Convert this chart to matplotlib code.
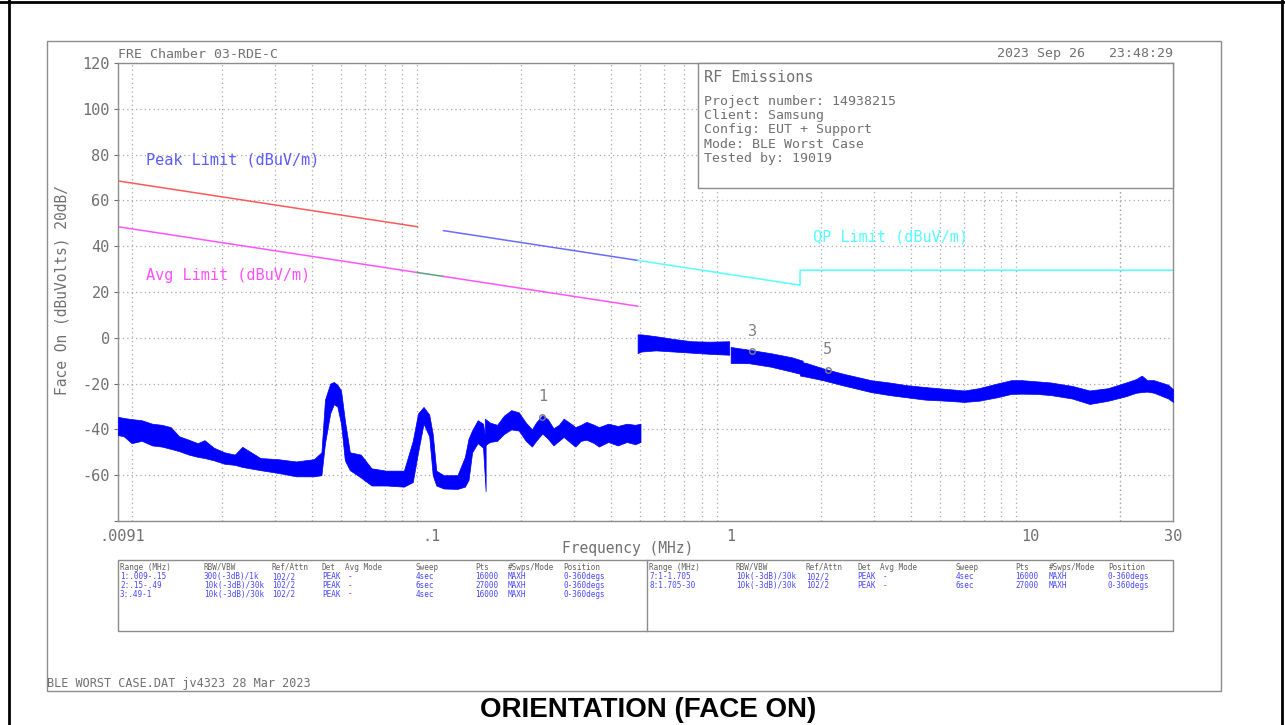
import matplotlib
matplotlib.use('Agg')
import matplotlib.pyplot as plt
from matplotlib.patches import Rectangle
from matplotlib.lines import Line2D

plt.rcParams['font.family'] = ['DejaVu Sans Mono']

W, H = 1285, 725

# --- trace envelopes (MHz, top dB, bottom dB) ---
seg1_f = [0.009, 0.0094, 0.010, 0.0108, 0.0117, 0.0126, 0.0135, 0.0144, 0.0155, 0.0166,
          0.0175, 0.0188, 0.0204, 0.0221, 0.0234, 0.0269, 0.0308, 0.0354, 0.0406, 0.0430,
          0.0442, 0.0460, 0.0473, 0.0486, 0.0500, 0.0515, 0.0535, 0.0582, 0.0632, 0.0707,
          0.0811, 0.0868, 0.0904, 0.0943, 0.0985, 0.1012, 0.104, 0.110, 0.1224, 0.1296,
          0.1333, 0.137, 0.143, 0.149, 0.152]
seg1_top = [-34.5, -35, -35.5, -36, -37.5, -38, -39, -43, -44.5, -46,
            -44.7, -48, -50, -51, -47.6, -52.5, -53, -54, -53, -50,
            -27, -20, -19.3, -20.5, -23, -36, -50, -51, -57, -58,
            -58, -45, -33, -30.2, -33.5, -42, -58, -60, -60, -52,
            -44, -40.4, -36, -37.5, -45]
seg1_bot = [-42.5, -43, -46, -45, -47, -47.5, -48.5, -49.5, -51, -52,
            -52.5, -53.5, -55, -55.5, -56.4, -57.8, -59, -60.5, -60.5, -60,
            -46, -33, -29, -30, -37.5, -53.5, -57.8, -61, -64.5, -64.5,
            -65, -63, -50, -37.5, -43, -60, -64.5, -65.8, -66, -65,
            -62, -50, -46, -48, -67]

seg2_f = [0.151, 0.157, 0.166, 0.175, 0.185, 0.196, 0.207, 0.217, 0.224, 0.235,
          0.245, 0.256, 0.267, 0.277, 0.293, 0.303, 0.316, 0.33, 0.35, 0.363,
          0.39, 0.42, 0.45, 0.48, 0.50]
seg2_top = [-35.3, -37, -38, -34, -31.6, -32.5, -37, -40, -37, -33.8,
            -35.5, -39.5, -38, -35.3, -37.5, -39, -38, -36.7, -38, -39,
            -37.5, -38.5, -37.5, -38, -37.5]
seg2_bot = [-47, -45.5, -45, -42, -40, -40.5, -45, -47.5, -45, -41.8,
            -44, -47, -45, -43.3, -46, -47.5, -45, -44.5, -46, -47.5,
            -45.5, -47, -45.5, -46.5, -45.5]

seg3_f = [0.489, 0.503, 0.562, 0.645, 0.740, 0.850, 0.989]
seg3_top = [1.5, 1.5, 0.7, -0.5, -1.5, -1.7, -1.5]
seg3_bot = [-6.7, -6, -5.5, -6, -6.5, -7, -7.4]

seg7_f = [1.0, 1.151, 1.359, 1.60, 1.74]
seg7_top = [-4, -5.2, -6.7, -8.5, -10]
seg7_bot = [-11, -11.1, -12.6, -14.8, -16]

seg8_f = [1.705, 1.79, 2.03, 2.36, 2.94, 3.38, 3.88, 4.46, 5.12, 6.03, 6.74, 7.74,
          8.65, 9.37, 10.5, 11.7, 13.8, 15.8, 18.2, 20.9, 22.6, 23.6, 24.6, 25.9,
          28.9, 30.0]
seg8_top = [-10.5, -11, -13.3, -15.6, -18.5, -19.5, -20.7, -21.5, -22.2, -23, -22, -20,
            -18.5, -18.5, -19, -19.5, -21, -23, -22, -19.5, -18, -16.5, -18.5, -18.5,
            -20.5, -22.5]
seg8_bot = [-16.5, -17, -18.5, -20.7, -23.7, -25, -26, -27, -27.4, -28, -27.5, -26,
            -24.5, -24.4, -24.5, -25, -26.5, -28.9, -27.5, -25.5, -24, -23.7, -23.5, -24,
            -26.5, -28]

# --- limit lines (MHz, dBuV/m) ---
peak_f1, peak_v1 = [0.009, 0.09], [68.5, 48.5]
peak_f2, peak_v2 = [0.11, 0.49], [46.8, 33.8]
avg_f1, avg_v1 = [0.009, 0.09], [48.5, 28.5]
avg_gap_f, avg_gap_v = [0.09, 0.11], [28.5, 26.8]
avg_f2, avg_v2 = [0.11, 0.49], [26.8, 13.8]
qp_f = [0.49, 1.705, 1.705, 30]
qp_v = [33.8, 23.0, 29.5, 29.5]

# --- markers ---
mk_names = ['1', '3', '5']
mk_f = [0.235, 1.18, 2.11]
mk_v = [-34.5, -5.9, -14]

yticks = [-80, -60, -40, -20, 0, 20, 40, 60, 80, 100, 120]
ytick_labels = ['', '-60', '-40', '-20', '0', '20', '40', '60', '80', '100', '120']
xticks = [0.0093, 0.1, 1, 10, 30]
xtick_labels = ['.0091', '.1', '1', '10', '30']

info_title = 'RF Emissions'
info_lines = ['Project number: 14938215', 'Client: Samsung', 'Config: EUT + Support',
              'Mode: BLE Worst Case', 'Tested by: 19019']

tbl_header = ['Range (MHz)', 'RBW/VBW', 'Ref/Attn', 'Det', 'Avg Mode', 'Sweep', 'Pts',
              '#Swps/Mode', 'Position']
tbl_left = [['1:.009-.15', '300(-3dB)/1k', '102/2', 'PEAK', '-', '4sec', '16000', 'MAXH', '0-360degs'],
            ['2:.15-.49', '10k(-3dB)/30k', '102/2', 'PEAK', '-', '6sec', '27000', 'MAXH', '0-360degs'],
            ['3:.49-1', '10k(-3dB)/30k', '102/2', 'PEAK', '-', '4sec', '16000', 'MAXH', '0-360degs']]
tbl_right = [['7:1-1.705', '10k(-3dB)/30k', '102/2', 'PEAK', '-', '4sec', '16000', 'MAXH', '0-360degs'],
             ['8:1.705-30', '10k(-3dB)/30k', '102/2', 'PEAK', '-', '6sec', '27000', 'MAXH', '0-360degs']]

GRAY = '#707070'
GRID = '#a8a8a8'
TRACE = '#0000ff'


def fx(px):
    return px / W


def fy(py):
    return 1 - py / H


fig = plt.figure(figsize=(W / 100, H / 100), dpi=100)
ax = fig.add_axes([fx(118), fy(521), (1173 - 118) / W, (521 - 63) / H])

# trace
for f, t, b in [(seg1_f, seg1_top, seg1_bot), (seg2_f, seg2_top, seg2_bot),
                (seg3_f, seg3_top, seg3_bot), (seg7_f, seg7_top, seg7_bot),
                (seg8_f, seg8_top, seg8_bot)]:
    ax.fill_between(f, b, t, color=TRACE, lw=0.5, zorder=3)

# limits
ax.plot(peak_f1, peak_v1, color='#ff5a5a', lw=1.1, zorder=2)
ax.plot(peak_f2, peak_v2, color='#6a6aff', lw=1.1, zorder=2)
ax.plot(avg_f1, avg_v1, color='#ff55ff', lw=1.1, zorder=2)
ax.plot(avg_gap_f, avg_gap_v, color='#5aa080', lw=1.1, zorder=2)
ax.plot(avg_f2, avg_v2, color='#ff55ff', lw=1.1, zorder=2)
ax.plot(qp_f, qp_v, color='#55ffff', lw=1.1, zorder=2)

ax.text(0.01116, 77.7, 'Peak Limit (dBuV/m)', color='#5a5aff', fontsize=11, va='center')
ax.text(0.01116, 27.0, 'Avg Limit (dBuV/m)', color='#ff50ff', fontsize=11, va='center')
ax.text(1.886, 44.0, 'QP Limit (dBuV/m)', color='#55ffff', fontsize=11, va='center')

# markers
for n, f, v in zip(mk_names, mk_f, mk_v):
    ax.plot(f, v, 'o', ms=4, mfc='none', mec='#808080', mew=1, zorder=4)
    ax.text(f, v + 5.5, n, color='#808080', fontsize=11, ha='center', va='bottom', zorder=4)

ax.set_xscale('log')
ax.set_xlim(0.009, 30)
ax.set_ylim(-80, 120)
ax.set_yticks(yticks)
ax.set_yticklabels(ytick_labels)
ax.set_xticks(xticks)
ax.set_xticklabels(xtick_labels)
minor = [m * d for d in [0.01, 0.1, 1, 10] for m in range(1, 10) if m * d < 30] + [20]
ax.set_xticks(minor, minor=True)
ax.xaxis.set_minor_formatter(matplotlib.ticker.NullFormatter())
ax.tick_params(axis='both', which='both', colors=GRAY, labelsize=11, length=0)
ax.tick_params(axis='y', pad=3, length=3, direction='out')
ax.tick_params(axis='x', pad=6)
ax.grid(True, which='minor', axis='x', color=GRID, ls=(0, (1, 2.5)), lw=0.9)
ax.grid(True, which='major', axis='y', color=GRID, ls=(0, (1, 2.5)), lw=0.9)
for s in ax.spines.values():
    s.set_color('#8c8c8c')
    s.set_linewidth(1)

# info box
x0 = (698 - 118) / 1055
y0 = 1 - (188 - 63) / 458
ax.add_patch(Rectangle((x0, y0), 1 - x0, 1 - y0, transform=ax.transAxes, fc='white',
                       ec='#8c8c8c', lw=1, zorder=5, clip_on=False))
fig.text(fx(704), fy(78), info_title, color=GRAY, fontsize=11, va='center', zorder=6)
for i, line in enumerate(info_lines):
    fig.text(fx(704), fy(101.5 + i * 14.2), line, color=GRAY, fontsize=9.5, va='center', zorder=6)

# header / labels
fig.text(fx(118), fy(54), 'FRE Chamber 03-RDE-C', color=GRAY, fontsize=9.5, va='center')
fig.text(fx(1173), fy(54), '2023 Sep 26   23:48:29', color=GRAY, fontsize=9.5, va='center', ha='right')
fig.text(fx(62), fy(290), 'Face On (dBuVolts) 20dB/', color=GRAY, fontsize=10.5,
         rotation=90, ha='center', va='center')
fig.text(fx(628), fy(549), 'Frequency (MHz)', color=GRAY, fontsize=10.5, ha='center', va='center')

# settings table
fig.add_artist(Rectangle((fx(118), fy(631)), (1173 - 118) / W, (631 - 560) / H,
                         fc='none', ec='#8c8c8c', lw=1))
fig.add_artist(Line2D([fx(647), fx(647)], [fy(631), fy(560)], color='#8c8c8c', lw=1))
cols_l = [120, 204, 272, 322, 345, 416, 475, 508, 563]
cols_r = [649, 736, 806, 857, 880, 956, 1015, 1049, 1108]
for cols, rows in [(cols_l, tbl_left), (cols_r, tbl_right)]:
    for c, h in zip(cols, tbl_header):
        fig.text(fx(c), fy(567), h, color='#606060', fontsize=5.5, va='center')
    for r, row in enumerate(rows):
        for c, v in zip(cols, row):
            if v == '-':
                c += 3
            fig.text(fx(c), fy(576.5 + r * 8.8), v, color='#4848ff', fontsize=5.5, va='center')

fig.text(fx(47), fy(684), 'BLE WORST CASE.DAT jv4323 28 Mar 2023', color=GRAY,
         fontsize=8.5, va='center')

# frames
fig.add_artist(Rectangle((fx(47), fy(691)), (1221 - 47) / W, (691 - 41) / H,
                         fc='none', ec='#8c8c8c', lw=1))
fig.add_artist(Line2D([fx(9), fx(9)], [0, 1], color='black', lw=2))
fig.add_artist(Line2D([fx(1282), fx(1282)], [0, 1], color='black', lw=2))
fig.add_artist(Line2D([0, 1], [fy(1.5), fy(1.5)], color='black', lw=2))

fig.text(fx(648), fy(710), 'ORIENTATION (FACE ON)', fontsize=20, fontweight='bold',
         family='Liberation Sans', ha='center', va='center')

fig.savefig('out.png', dpi=100)
